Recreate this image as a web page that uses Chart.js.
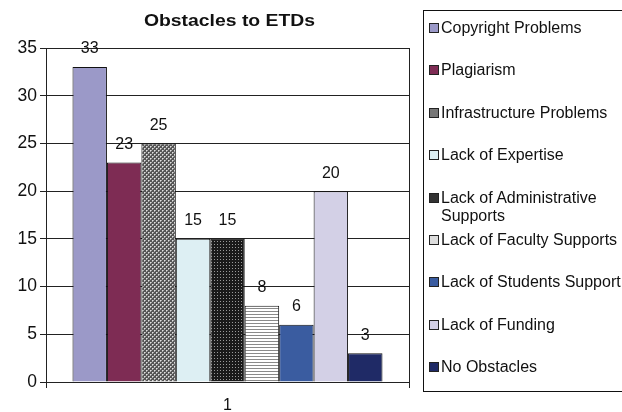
<!DOCTYPE html>
<html>
<head>
<meta charset="utf-8">
<script src="https://cdn.jsdelivr.net/npm/chart.js@4.4.1/dist/chart.umd.min.js"></script>
<style>
  html, body { margin: 0; padding: 0; background: #fff; overflow: hidden; }
  #wrap { position: relative; width: 622px; height: 412px; }
  #c { position: absolute; left: 0; top: 0; }
  #legend { position: absolute; left: 423px; top: 10px; width: 220px; height: 382px; border: 1px solid #111; box-sizing: border-box; font-family: "Liberation Sans", Arial, sans-serif; font-size: 16px; color: #111; }
  .item { position: absolute; left: 5px; white-space: nowrap; line-height: 18px; }
  .sw { position: absolute; left: 0; top: 4px; width: 10px; height: 10px; border: 1px solid #222; box-sizing: border-box; }
  .tx { position: absolute; left: 12px; top: 0; }
</style>
</head>
<body>
<div id="wrap">
  <canvas id="c" width="622" height="412"></canvas>
  <div id="legend"></div>
</div>
<script>
const categories = ["1"];
const seriesNames = [
  "Copyright Problems",
  "Plagiarism",
  "Infrastructure Problems",
  "Lack of Expertise",
  ["Lack of Administrative", "Supports"],
  "Lack of Faculty Supports",
  "Lack of Students Support",
  "Lack of Funding",
  "No Obstacles"
];
const seriesValues = [33, 23, 25, 15, 15, 8, 6, 20, 3];
const yTicks = [0, 5, 10, 15, 20, 25, 30, 35];
const chartTitle = "Obstacles to ETDs";

function makePattern(kind) {
  const t = document.createElement('canvas');
  const g = t.getContext('2d');
  if (kind === 'checker') {
    t.width = 4; t.height = 4;
    g.fillStyle = '#555555'; g.fillRect(0, 0, 4, 4);
    g.fillStyle = '#e0e0e0';
    g.fillRect(0, 0, 1, 1); g.fillRect(2, 2, 1, 1);
    g.fillStyle = '#aaaaaa';
    g.fillRect(1, 0, 1, 1); g.fillRect(0, 1, 1, 1); g.fillRect(3, 2, 1, 1); g.fillRect(2, 3, 1, 1);
  } else if (kind === 'dots') {
    t.width = 3; t.height = 3;
    g.fillStyle = '#1a1a1a'; g.fillRect(0, 0, 3, 3);
    g.fillStyle = '#9a9a9a'; g.fillRect(1, 1, 1, 1);
  } else {
    t.width = 4; t.height = 3;
    g.fillStyle = '#ffffff'; g.fillRect(0, 0, 4, 3);
    g.fillStyle = '#8a8a8a'; g.fillRect(0, 2, 4, 1);
  }
  return g.createPattern(t, 'repeat');
}

const colors = [
  '#9b99c8',
  '#7e2c54',
  makePattern('checker'),
  '#ddeff3',
  makePattern('dots'),
  makePattern('stripes'),
  '#3a5ca0',
  '#d3d0e6',
  '#1f2a66'
];
const legendColors = ['#9b99c8', '#7e2c54', '#777', '#ddeff3', '#333', '#ddd', '#3a5ca0', '#d3d0e6', '#1f2a66'];

const datasets = seriesNames.map((n, i) => ({
  label: Array.isArray(n) ? n.join(' ') : n,
  data: [seriesValues[i]],
  backgroundColor: colors[i],
  borderColor: '#111',
  borderWidth: 1,
  borderSkipped: 'bottom',
  barPercentage: 1,
  categoryPercentage: 0.854
}));

const FONT = '"Liberation Sans", Arial, sans-serif';

const labelPlugin = {
  id: 'labels',
  afterDatasetsDraw(chart) {
    const ctx = chart.ctx;
    ctx.save();
    ctx.font = '16px ' + FONT;
    ctx.fillStyle = '#111';
    ctx.textAlign = 'center';
    ctx.textBaseline = 'middle';
    chart.data.datasets.forEach((ds, i) => {
      const el = chart.getDatasetMeta(i).data[0];
      ctx.fillText(String(ds.data[0]), el.x, el.y - 18);
    });
    const ca = chart.chartArea;
    ctx.font = 'bold 17px ' + FONT;
    const cx = (ca.left + ca.right) / 2 + 2;
    ctx.translate(cx, 21);
    ctx.scale(1.14, 1);
    ctx.fillText(chartTitle, 0, 0);
    ctx.restore();
  }
};

new Chart(document.getElementById('c'), {
  type: 'bar',
  data: { labels: categories, datasets },
  options: {
    responsive: false,
    animation: false,
    layout: { padding: { top: 48, right: 213, left: 0, bottom: 0 } },
    plugins: { legend: { display: false }, title: { display: false }, tooltip: { enabled: false } },
    scales: {
      x: {
        grid: { color: '#222', lineWidth: 1, tickLength: 6, drawOnChartArea: true },
        border: { color: '#222' },
        ticks: { color: '#111', font: { family: FONT, size: 16 }, padding: 8 },
        afterFit(s) { s.height = 30; }
      },
      y: {
        min: 0, max: 35,
        afterBuildTicks(s) { s.ticks = yTicks.map(v => ({ value: v })); },
        grid: { color: '#222', lineWidth: 1, tickLength: 6 },
        border: { color: '#222' },
        ticks: { color: '#111', font: { family: FONT, size: 17.5 }, padding: 3 },
        afterFit(s) { s.width = 46; }
      }
    }
  },
  plugins: [labelPlugin]
});

const leg = document.getElementById('legend');
seriesNames.forEach((n, i) => {
  const it = document.createElement('div');
  it.className = 'item';
  it.style.top = (8 + i * 42.4) + 'px';
  const sw = document.createElement('div');
  sw.className = 'sw';
  sw.style.background = legendColors[i];
  const tx = document.createElement('div');
  tx.className = 'tx';
  tx.innerHTML = Array.isArray(n) ? n.join('<br>') : n;
  it.appendChild(sw); it.appendChild(tx);
  leg.appendChild(it);
});
</script>
</body>
</html>
